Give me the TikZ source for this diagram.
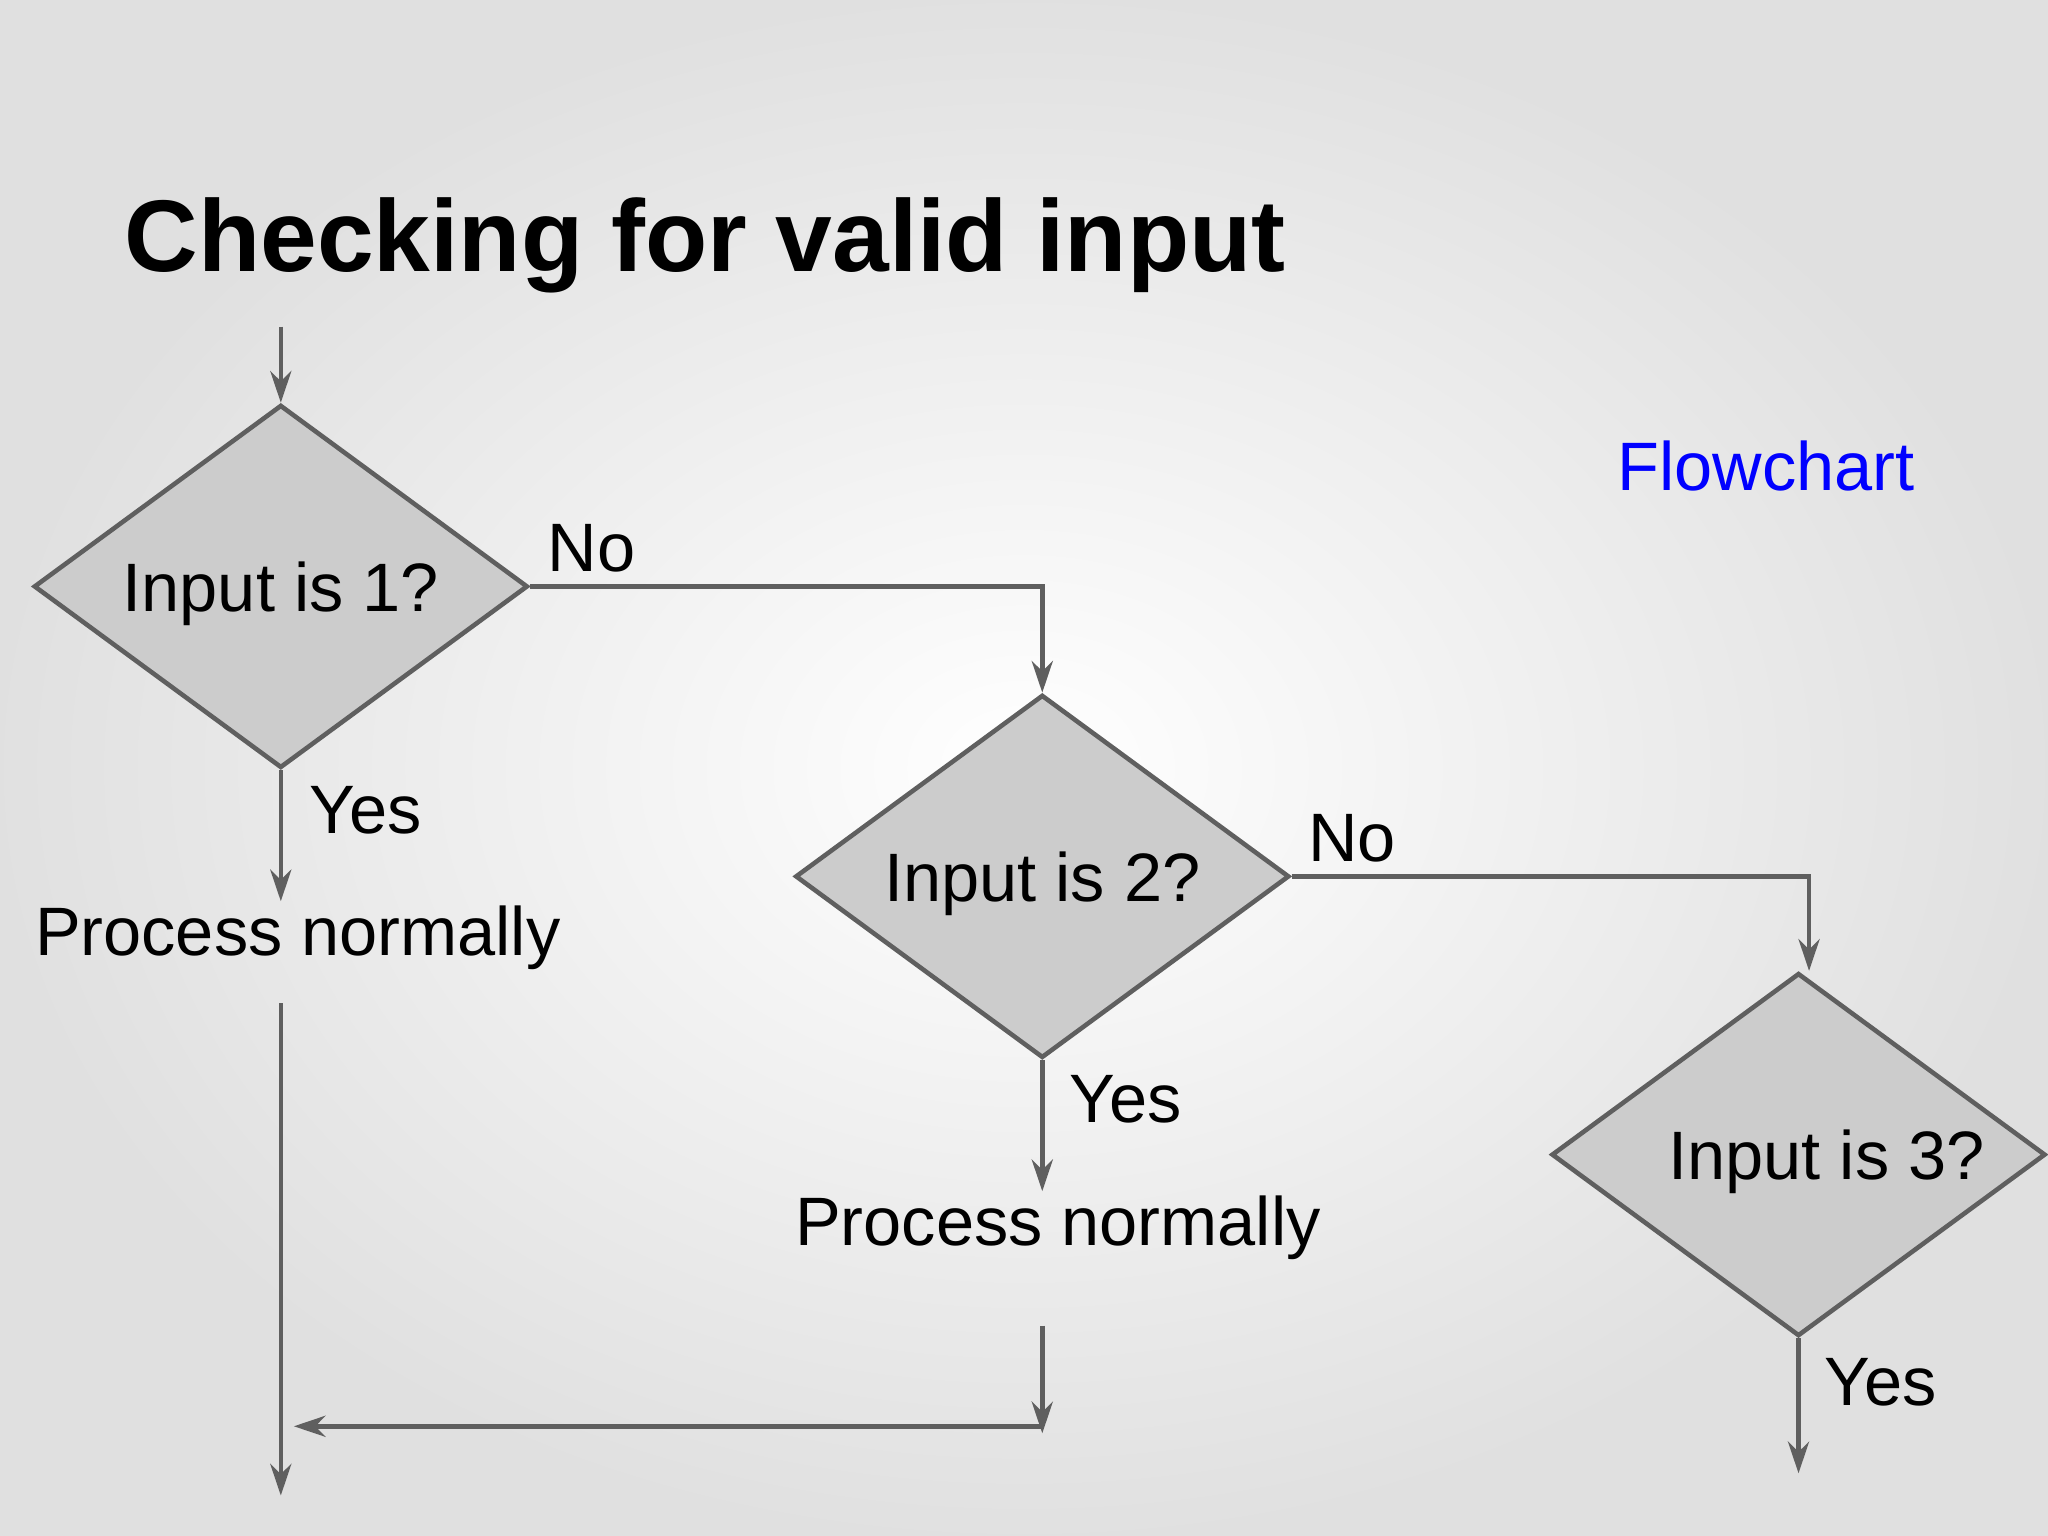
\documentclass[tikz,border=0pt]{standalone}
\usepackage{fontspec}
\setmainfont{Liberation Sans}
\usetikzlibrary{arrows.meta, positioning, shapes.geometric}

\definecolor{linegray}{HTML}{5F5F5F}
\definecolor{fillgray}{HTML}{CCCCCC}

\tikzset{
    decision/.style={diamond, draw=linegray, fill=fillgray, line width=1.3pt,
        inner sep=0pt, minimum width=4.94cm, minimum height=3.63cm,
        font=\fontsize{19.5}{22}\selectfont},
    label text/.style={font=\fontsize{19.5}{22}\selectfont, inner sep=0pt},
    flow/.style={draw=linegray, line width=1.3pt, -{Stealth[length=9pt, width=6pt]}},
}

\begin{document}
\begin{tikzpicture}[x=0.01306cm, y=-0.01306cm]
    % background
    \shade[inner color=white, outer color=black!12] (0,0) rectangle (1568,1176);
    \useasboundingbox (0,0) rectangle (1568,1176);

    \node[anchor=base west, inner sep=0pt, font=\bfseries\fontsize{29}{33}\selectfont]
        (title) at (95,208) {Checking for valid input};
    \node[label text, text=blue] (fc) at (1352,357) {Flowchart};

    \node[decision] (d1) at (215,449) {\smash{\raisebox{-7pt}{Input is 1?}}};
    \node[decision] (d2) at (798,671) {\smash{\raisebox{-7pt}{Input is 2?}}};
    \node[decision] (d3) at (1377,884) {\smash{\makebox[0pt]{\hspace*{16pt}\raisebox{-7pt}{Input is 3?}}}};

    \node[label text] (p1) at (228,718) {Process normally};
    \node[label text] (p2) at (810,940) {Process normally};

    \node[label text] (no1)  at (453,420)  {No};
    \node[label text] (no2)  at (1035,642) {No};
    \node[label text] (yes1) at (280,620)  {Yes};
    \node[label text] (yes2) at (862,842)  {Yes};
    \node[label text] (yes3) at (1440,1058) {Yes};

    \coordinate (start) at (215,250);
    \coordinate (p1in)  at (215,690);
    \coordinate (p2in)  at (798,912);
    \coordinate (p1out) at (215,768);
    \coordinate (exit)  at (215,1145);
    \coordinate (p2out) at (798,1015);
    \coordinate (join)  at (798,1092);
    \coordinate (back)  at (225,1092);
    \coordinate (d3out) at (1377,1128);

    \draw[flow] (start) -- (d1.north);
    \draw[flow] (d1.east) -| (d2.north);
    \draw[flow] (d2.east) -| ([xshift=3pt]d3.north);
    \draw[flow] (d1.south) -- (p1in);
    \draw[flow] (d2.south) -- (p2in);
    \draw[flow] (p1out) -- (exit);
    \draw[flow] (p2out) -- ([yshift=-2pt]join);
    \draw[flow] (join) -- (back);
    \draw[flow] (d3.south) -- (d3out);
\end{tikzpicture}
\end{document}
